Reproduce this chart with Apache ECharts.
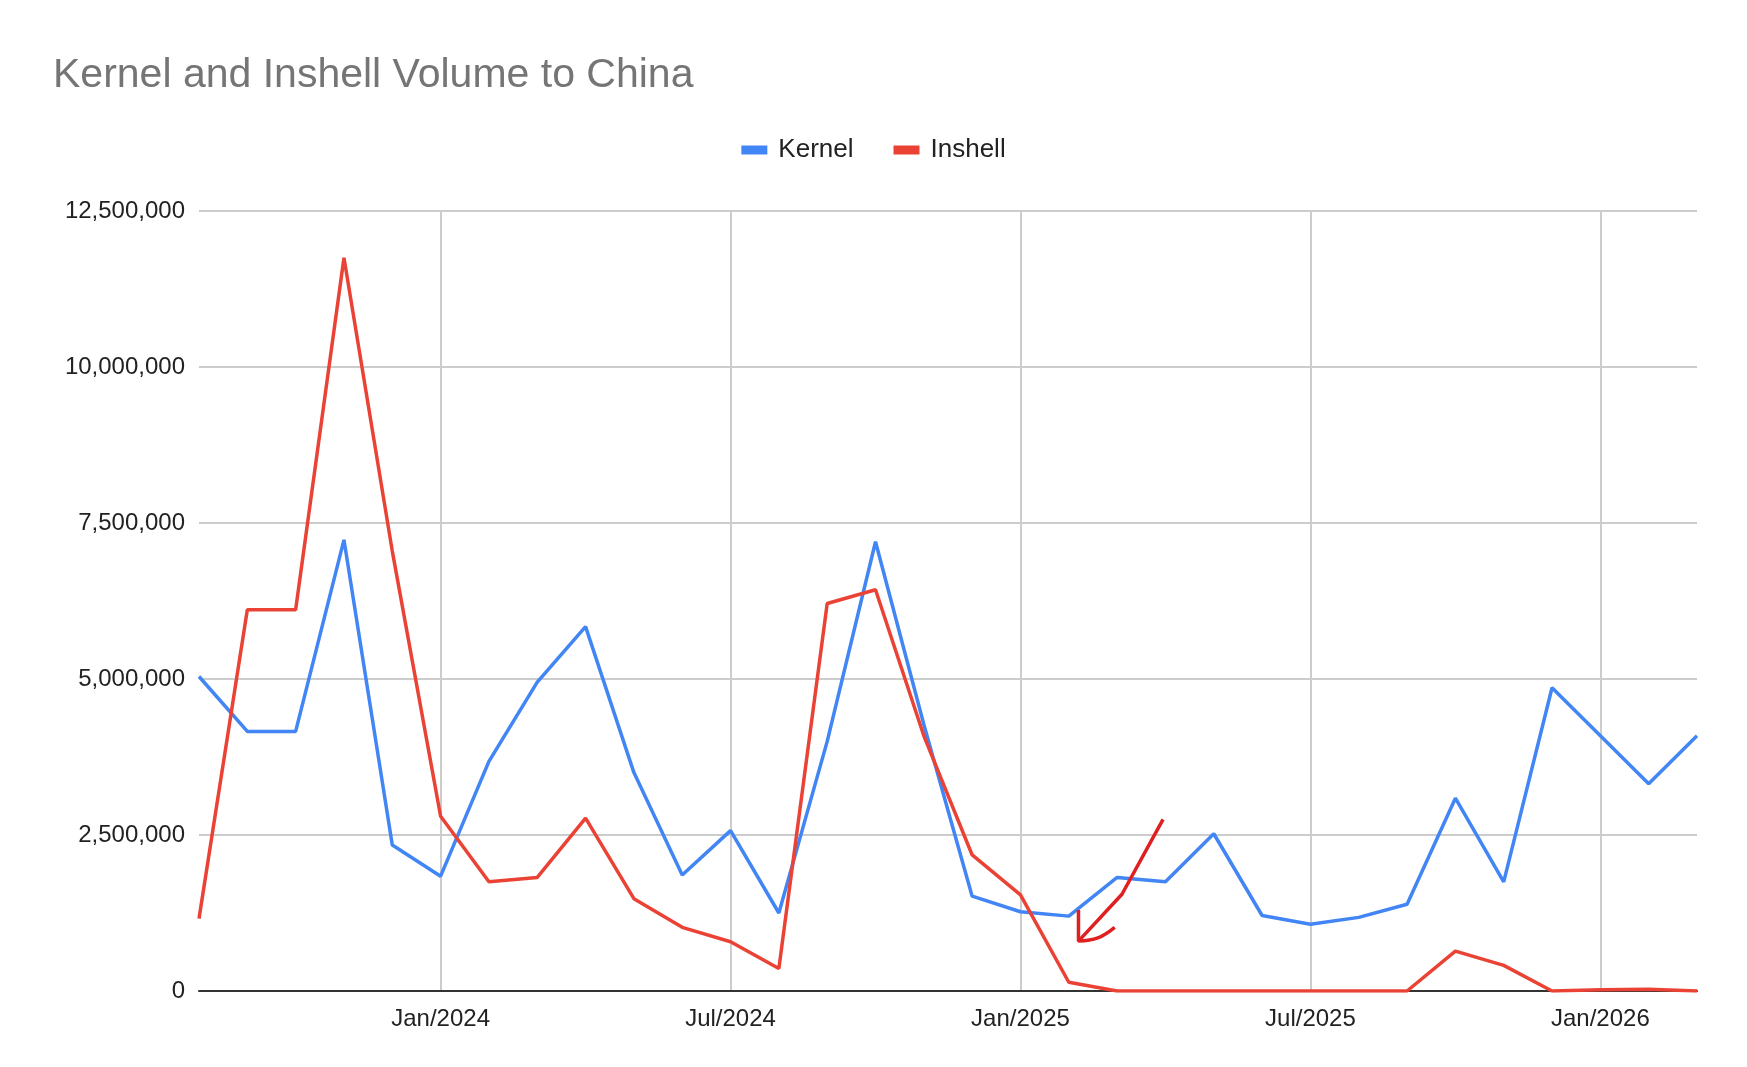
<!DOCTYPE html>
<html>
<head>
<meta charset="utf-8">
<script src="https://cdn.jsdelivr.net/npm/echarts@6/dist/echarts.min.js"></script>
<style>html,body{margin:0;background:#fff}#main{width:1747px;height:1067px}</style>
</head>
<body>
<div id="main"></div>
<script>
// monthly volume to China, Aug 2023 - Mar 2026
var months = ['Aug/2023','Sep/2023','Oct/2023','Nov/2023','Dec/2023',
  'Jan/2024','Feb/2024','Mar/2024','Apr/2024','May/2024','Jun/2024','Jul/2024','Aug/2024','Sep/2024','Oct/2024','Nov/2024','Dec/2024',
  'Jan/2025','Feb/2025','Mar/2025','Apr/2025','May/2025','Jun/2025','Jul/2025','Aug/2025','Sep/2025','Oct/2025','Nov/2025','Dec/2025',
  'Jan/2026','Feb/2026','Mar/2026'];
var kernel = [5040000,4160000,4160000,7230000,2340000,
  1840000,3680000,4950000,5840000,3500000,1860000,2570000,1250000,4000000,7200000,4270000,1520000,
  1270000,1200000,1820000,1750000,2520000,1210000,1070000,1180000,1390000,3090000,1750000,4860000,
  4090000,3320000,4090000];
var inshell = [1160000,6110000,6110000,11750000,7050000,
  2800000,1750000,1820000,2770000,1480000,1020000,790000,360000,6210000,6430000,4090000,2180000,
  1540000,140000,0,0,0,0,0,0,0,640000,410000,0,
  20000,30000,0];
// hand-drawn arrow annotation, [month index, value]
var arrowStroke = [[19.95,2750000],[19.1,1550000],[18.2,800000]];
var arrowHook = [[18.2,1300000],[18.2,800000],[18.6,850000],[18.95,1020000]];
var yTicks = [0,2500000,5000000,7500000,10000000,12500000];

var everySix = function (i) { return i % 6 === 5; };
var chart = echarts.init(document.getElementById('main'));
chart.setOption({
  title: {
    text: 'Kernel and Inshell Volume to China',
    left: 48, top: 50,
    textStyle: {fontFamily: 'Arial, Liberation Sans', fontSize: 41, fontWeight: 'normal', color: '#757575'}
  },
  legend: {
    data: ['Kernel', 'Inshell'],
    top: 132, left: 'center', itemGap: 40,
    icon: 'rect', itemWidth: 26, itemHeight: 9,
    textStyle: {fontFamily: 'Arial, Liberation Sans', fontSize: 26, color: '#222', padding: [0, 0, 0, 6]}
  },
  grid: {left: 199, right: 50, top: 211, bottom: 76, containLabel: false},
  xAxis: [{
    type: 'category', data: months, boundaryGap: false,
    axisLine: {lineStyle: {color: '#333', width: 2}},
    axisTick: {show: false},
    axisLabel: {interval: everySix, fontFamily: 'Arial, Liberation Sans', fontSize: 24, color: '#222', margin: 16},
    splitLine: {show: true, interval: everySix, lineStyle: {color: '#ccc', width: 2}}
  }, {
    type: 'value', min: 0, max: months.length - 1, show: false
  }],
  yAxis: {
    type: 'value', min: 0, max: yTicks[yTicks.length - 1], interval: 2500000,
    axisLine: {show: false}, axisTick: {show: false},
    axisLabel: {fontFamily: 'Arial, Liberation Sans', fontSize: 24, color: '#222', margin: 14,
      formatter: function (v) { return v.toLocaleString('en-US'); }},
    splitLine: {lineStyle: {color: '#ccc', width: 2}}
  },
  series: [
    {name: 'Kernel', type: 'line', data: kernel, symbol: 'none', lineStyle: {width: 3.5, color: '#4285f4'}, itemStyle: {color: '#4285f4'}},
    {name: 'Inshell', type: 'line', data: inshell, symbol: 'none', lineStyle: {width: 3.5, color: '#ea4335'}, itemStyle: {color: '#ea4335'}},
    {name: 'arrow', type: 'line', xAxisIndex: 1, data: arrowStroke, symbol: 'none', silent: true, lineStyle: {width: 3.5, color: '#e02020'}},
    {name: 'arrowHook', type: 'line', xAxisIndex: 1, data: arrowHook, symbol: 'none', smooth: 0.4, silent: true, lineStyle: {width: 3.5, color: '#e02020'}}
  ]
});
</script>
</body>
</html>
